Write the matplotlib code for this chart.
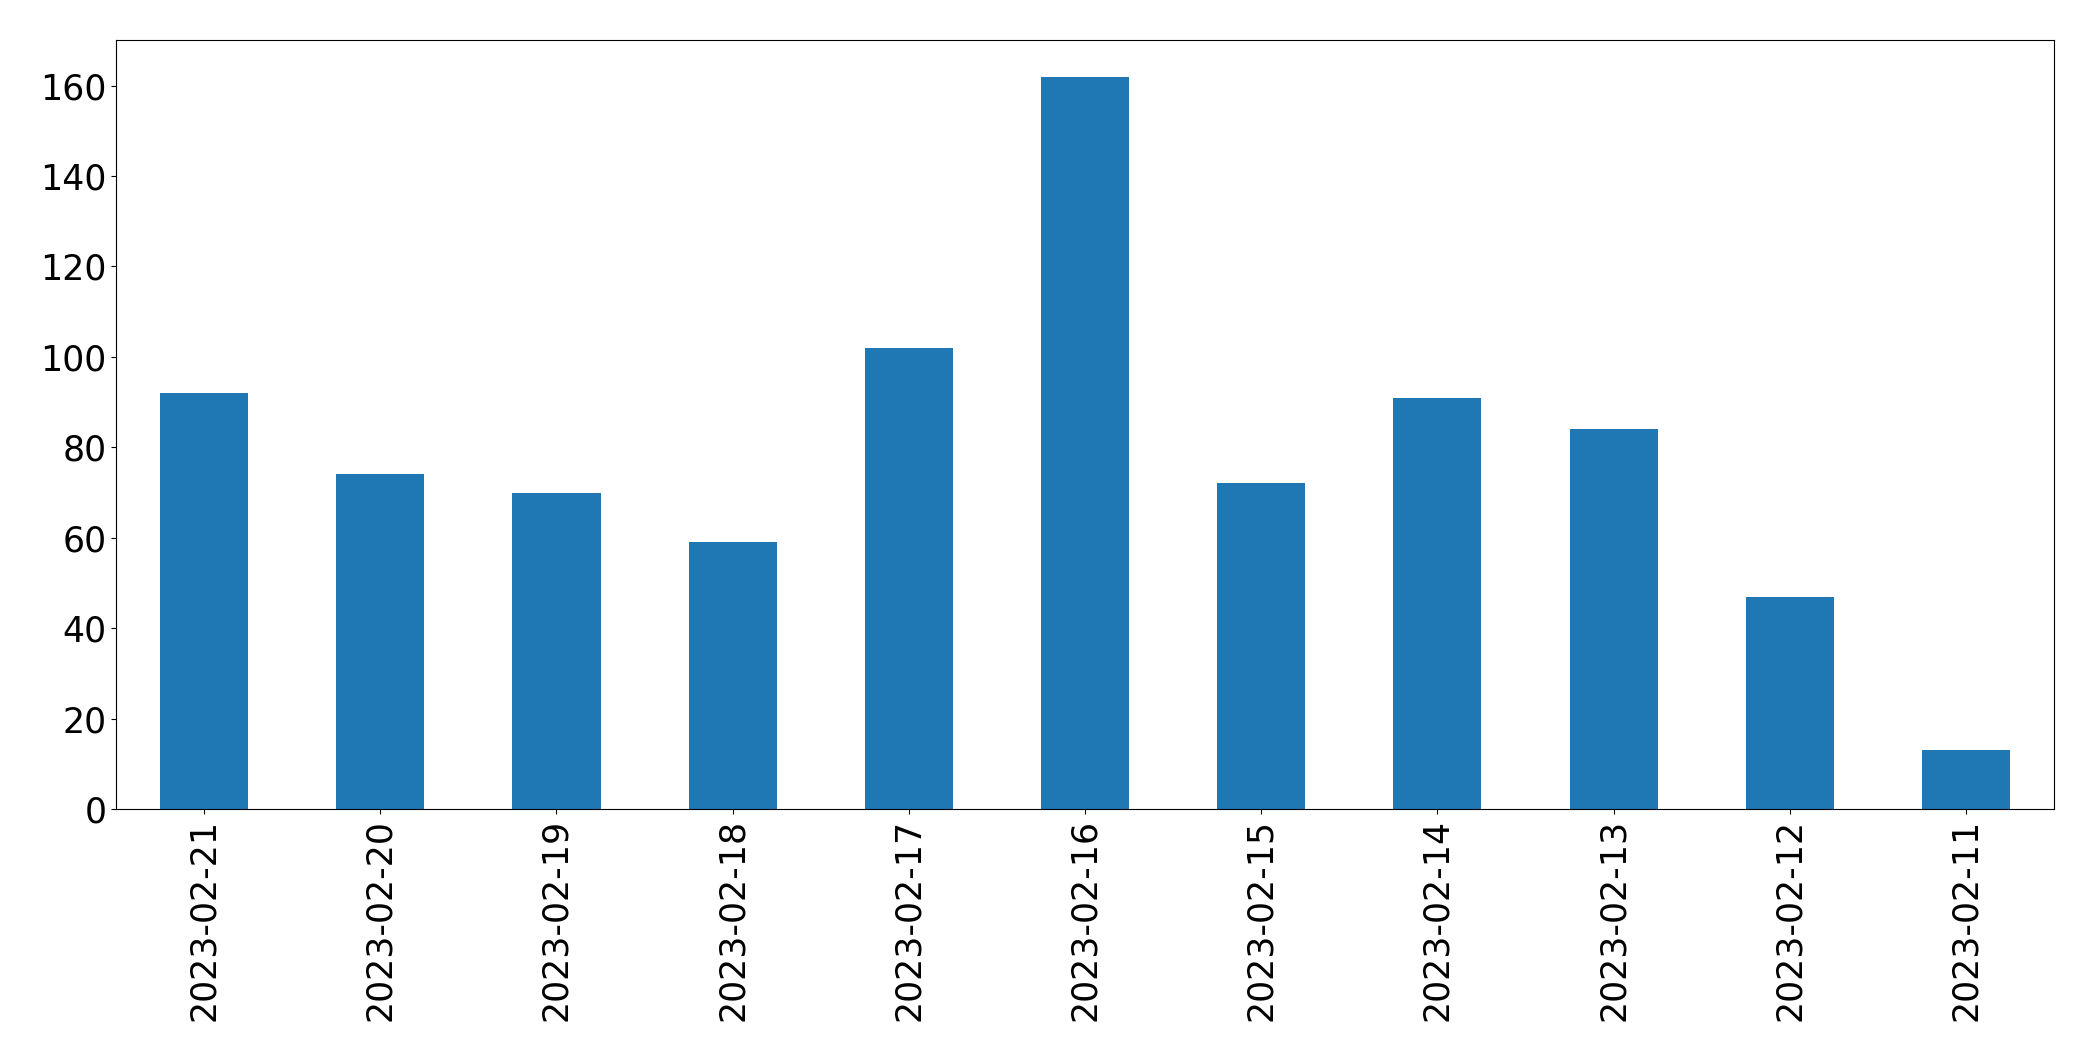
import matplotlib
matplotlib.use("Agg")
import matplotlib.pyplot as plt
import pandas as pd

dates = ["2023-02-21", "2023-02-20", "2023-02-19", "2023-02-18", "2023-02-17",
         "2023-02-16", "2023-02-15", "2023-02-14", "2023-02-13", "2023-02-12",
         "2023-02-11"]
counts = [92, 74, 70, 59, 102, 162, 72, 91, 84, 47, 13]

s = pd.Series(counts, index=dates)

fig, ax = plt.subplots(figsize=(20.93, 10.61), dpi=100)
s.plot(kind="bar", ax=ax, color="#1f77b4", fontsize=25)
ax.tick_params(axis="x", labelrotation=90)

plt.subplots_adjust(left=116 / 2093, right=2054 / 2093, top=1 - 40 / 1061, bottom=1 - 809 / 1061)
plt.savefig("out.png", dpi=100)
